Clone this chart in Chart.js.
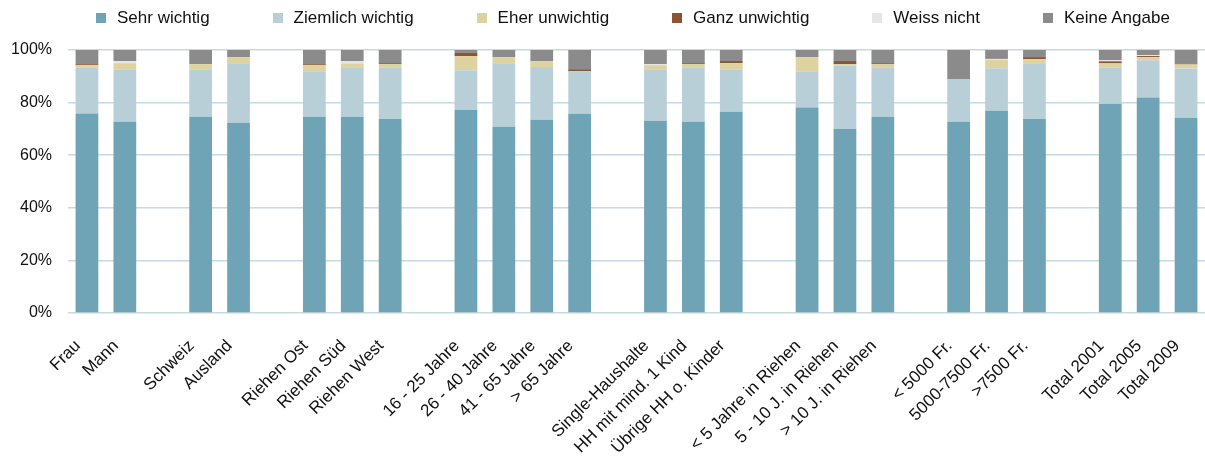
<!DOCTYPE html>
<html>
<head>
    <meta charset="utf-8">
    <title>Wichtigkeit</title>
    <script src="https://cdn.jsdelivr.net/npm/chart.js"></script>
    <style>
        body {
            margin: 0;
            font-family: "Liberation Sans", Arial, sans-serif;
            background: #fff;
        }

        .chart-wrap {
            position: relative;
            width: 1205px;
            height: 456px;
        }

        #legend {
            position: absolute;
            top: 8px;
            left: 96px;
            display: flex;
            gap: 63px;
            font-size: 17px;
            color: #111;
            line-height: 20px;
        }

        .legend-item {
            display: flex;
            align-items: center;
        }

        .legend-box {
            width: 10px;
            height: 10px;
            margin-right: 11px;
        }
    </style>
</head>
<body>
    <div class="chart-wrap">
        <div id="legend"></div>
        <canvas id="chart" width="1205" height="456"></canvas>
    </div>

    <script>
        const categories = [
            'Frau', 'Mann', '',
            'Schweiz', 'Ausland', '',
            'Riehen Ost', 'Riehen Süd', 'Riehen West', '',
            '16 - 25 Jahre', '26 - 40 Jahre', '41 - 65 Jahre', '> 65 Jahre', '',
            'Single-Haushalte', 'HH mit mind. 1 Kind', 'Übrige HH o. Kinder', '',
            '< 5 Jahre in Riehen', '5 - 10 J. in Riehen', '> 10 J. in Riehen', '',
            '< 5000 Fr.', '5000-7500 Fr.', '>7500 Fr.', '',
            'Total 2001', 'Total 2005', 'Total 2009'
        ];

        const seriesNames = ['Sehr wichtig', 'Ziemlich wichtig', 'Eher unwichtig', 'Ganz unwichtig', 'Weiss nicht', 'Keine Angabe'];
        const seriesColors = ['#6fa3b6', '#b9cfd8', '#ded29f', '#8c5431', '#e6e6e6', '#8b8b8b'];

        // values in %, null = empty slot between groups
        const sehrWichtig = [75.9, 72.7, null, 74.6, 72.3, null, 74.6, 74.6, 73.8, null, 77.3, 70.8, 73.5, 75.8, null, 73.1, 72.7, 76.5, null, 78.1, 70.0, 74.6, null, 72.7, 76.9, 73.8, null, 79.6, 81.9, 74.2];
        const ziemlichWichtig = [17.3, 20.0, null, 18.1, 22.4, null, 17.3, 18.8, 19.4, null, 15.0, 23.9, 20.0, 16.1, null, 19.6, 20.5, 16.2, null, 13.8, 24.0, 18.6, null, 16.1, 16.2, 20.9, null, 13.8, 14.2, 18.8];
        const eherUnwichtig = [1.0, 2.3, null, 1.9, 2.6, null, 2.3, 1.5, 1.4, null, 5.4, 2.6, 2.3, 0, null, 1.5, 1.4, 2.3, null, 5.4, 0.6, 1.4, null, 0, 3.1, 1.8, null, 1.5, 1.2, 1.5];
        const ganzUnwichtig = [0.4, 0, null, 0, 0, null, 0.4, 0, 0.4, null, 1.2, 0, 0, 0.8, null, 0, 0.4, 0.8, null, 0, 1.2, 0.4, null, 0, 0, 0.8, null, 0.8, 0.4, 0.4];
        const weissNicht = [0, 0.8, null, 0, 0, null, 0, 0.8, 0, null, 0, 0, 0, 0, null, 0.4, 0, 0, null, 0, 0, 0, null, 0, 0.4, 0, null, 0.4, 0.4, 0];
        const keineAngabe = [5.4, 4.2, null, 5.4, 2.7, null, 5.4, 4.3, 5.0, null, 1.1, 2.7, 4.2, 7.3, null, 5.4, 5.0, 4.2, null, 2.7, 4.2, 5.0, null, 11.2, 3.4, 2.7, null, 3.9, 1.9, 5.1];

        const seriesData = [sehrWichtig, ziemlichWichtig, eherUnwichtig, ganzUnwichtig, weissNicht, keineAngabe];

        const yTicks = [0, 20, 40, 60, 80, 100];

        const datasets = seriesNames.map((name, i) => ({
            label: name,
            data: seriesData[i],
            backgroundColor: seriesColors[i],
            borderWidth: 0,
            barPercentage: 0.6,
            categoryPercentage: 1
        }));

        const ctx = document.getElementById('chart').getContext('2d');
        const chart = new Chart(ctx, {
            type: 'bar',
            data: {
                labels: categories,
                datasets: datasets
            },
            options: {
                responsive: false,
                animation: false,
                layout: {
                    padding: { top: 50, right: 0, left: 0, bottom: 0 }
                },
                plugins: {
                    legend: { display: false },
                    tooltip: { enabled: false }
                },
                scales: {
                    x: {
                        stacked: true,
                        grid: { display: false },
                        border: { display: false },
                        ticks: {
                            autoSkip: false,
                            maxRotation: 45,
                            minRotation: 45,
                            padding: 15,
                            labelOffset: -9,
                            color: '#111',
                            font: { family: '"Liberation Sans", Arial', size: 17 }
                        },
                        afterFit: (axis) => {
                            axis.height = 143;
                            // plot runs to the right edge, no room kept for the last label
                            axis.paddingRight = 0;
                            axis.paddingLeft = 0;
                        }
                    },
                    y: {
                        stacked: true,
                        min: 0,
                        max: 100,
                        afterBuildTicks: (axis) => { axis.ticks = yTicks.map(v => ({ value: v })); },
                        grid: {
                            color: '#c6dae2',
                            lineWidth: 1.5,
                            drawTicks: false
                        },
                        border: { display: false },
                        ticks: {
                            padding: 16,
                            color: '#111',
                            font: { family: '"Liberation Sans", Arial', size: 16 },
                            callback: (v) => v + '%'
                        },
                        afterFit: (axis) => { axis.width = 68; }
                    }
                }
            }
        });

        // legend as html, one row with wide gaps like the original
        const legendEl = document.getElementById('legend');
        chart.data.datasets.forEach((ds) => {
            const item = document.createElement('div');
            item.className = 'legend-item';
            const box = document.createElement('span');
            box.className = 'legend-box';
            box.style.background = ds.backgroundColor;
            const text = document.createElement('span');
            text.textContent = ds.label;
            item.appendChild(box);
            item.appendChild(text);
            legendEl.appendChild(item);
        });
    </script>
</body>
</html>
